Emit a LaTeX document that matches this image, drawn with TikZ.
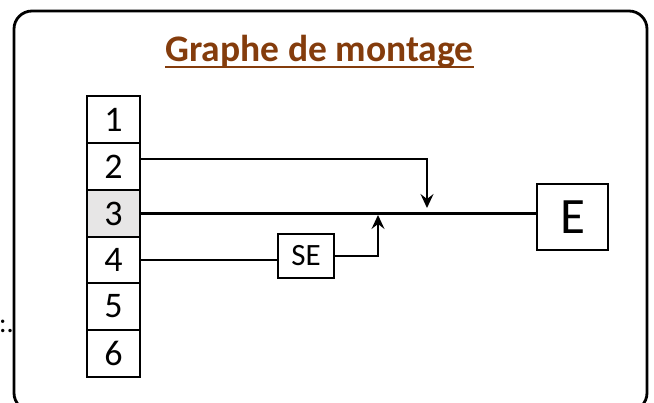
\documentclass[tikz,border=0pt]{standalone}
\usepackage{fontspec}
\setmainfont{Carlito}
\usetikzlibrary{arrows.meta}
\definecolor{titlebrown}{HTML}{843C0C}
\definecolor{rowgray}{HTML}{E7E6E6}
\begin{document}
\begin{tikzpicture}[x=1pt,y=-1pt,
  cell/.style={draw, line width=1.6pt, minimum width=53pt, minimum height=47pt,
               inner sep=0pt, font=\fontsize{36}{36}\selectfont},
  link/.style={line width=1.7pt},
  mainlink/.style={line width=3.8pt},
  tip/.style={-{Stealth[length=14pt,width=13pt,inset=5pt]}},
  block/.style={draw, line width=1.6pt, inner sep=0pt}
]
\useasboundingbox (0,0) rectangle (654,403);
\clip (0,0) rectangle (654,403);

% outer frame (its lower edge runs just past the page)
\draw[line width=2.8pt, rounded corners=18pt] (14,11) rectangle (647,411);

% text fragment at the left margin
\node[anchor=base west, inner sep=0pt, font=\fontsize{28}{28}\selectfont] (frag) at (-1,333) {:.};

% title
\node[font=\bfseries\fontsize{37.5}{37.5}\selectfont, text=titlebrown, anchor=base, inner sep=0pt]
  (title) at (319.5,62) {Graphe de montage};
\draw[titlebrown, line width=2.4pt] ([yshift=-5pt]title.base west) -- ([yshift=-5pt]title.base east);

% column of numbered parts
\node[cell] (r1) at (113.5,119.5) {1};
\node[cell] (r2) at (113.5,166.5) {2};
\node[cell, fill=rowgray] (r3) at (113.5,213.5) {3};
\node[cell] (r4) at (113.5,260) {4};
\node[cell] (r5) at (113.5,306.5) {5};
\node[cell] (r6) at (113.5,353.5) {6};

% sub-assembly and final assembly
\node[block, minimum width=56pt, minimum height=44pt, font=\fontsize{31}{31}\selectfont] (se) at (306,256) {SE};
\node[block, line width=2.6pt, minimum width=71pt, minimum height=66pt, font=\fontsize{51}{51}\selectfont] (e) at (572.5,217) {E};

% junction points on the main line
\coordinate (j2) at (427,208);
\coordinate (j4) at (378,215);

% connectors
\draw[mainlink] (r3.east) -- (r3.east -| e.west);
\draw[link, tip] ([yshift=7.5pt]r2.east) -| (j2);
\draw[link] (r4.east) -- (r4.east -| se.west);
\draw[link, tip] (se.east) -| (j4);
\end{tikzpicture}
\end{document}
